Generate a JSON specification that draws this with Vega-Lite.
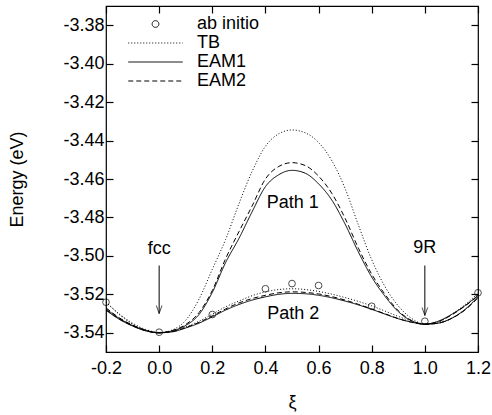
{
  "$schema": "https://vega.github.io/schema/vega-lite/v6.json",
  "width": 372,
  "height": 346,
  "autosize": {"type": "none"},
  "padding": {"left": 106, "top": 6, "right": 14, "bottom": 63},
  "background": "white",
  "config": {
    "view": {"stroke": "black", "strokeWidth": 1.2},
    "font": "Liberation Sans",
    "scale": {"zero": false},
    "axis": {
      "labelFont": "Liberation Sans",
      "labelFontSize": 18,
      "labelColor": "black",
      "labelFlush": false,
      "labelOverlap": false,
      "tickColor": "black",
      "tickSize": -7,
      "tickWidth": 1.2,
      "domain": false,
      "grid": false,
      "titleFont": "Liberation Sans",
      "titleFontSize": 18,
      "titleFontWeight": "normal",
      "titleColor": "black"
    }
  },
  "datasets": {
    "curves": [
      {"m":"TB","p":1,"x":-0.2,"y":-3.5240},{"m":"TB","p":1,"x":-0.15,"y":-3.5305},{"m":"TB","p":1,"x":-0.1,"y":-3.5355},{"m":"TB","p":1,"x":-0.05,"y":-3.5387},{"m":"TB","p":1,"x":0,"y":-3.5400},{"m":"TB","p":1,"x":0.05,"y":-3.5385},{"m":"TB","p":1,"x":0.1,"y":-3.5335},{"m":"TB","p":1,"x":0.15,"y":-3.5225},{"m":"TB","p":1,"x":0.2,"y":-3.5070},{"m":"TB","p":1,"x":0.25,"y":-3.4915},{"m":"TB","p":1,"x":0.3,"y":-3.4730},{"m":"TB","p":1,"x":0.35,"y":-3.4560},{"m":"TB","p":1,"x":0.4,"y":-3.4430},{"m":"TB","p":1,"x":0.45,"y":-3.4365},{"m":"TB","p":1,"x":0.5,"y":-3.4345},{"m":"TB","p":1,"x":0.55,"y":-3.4360},{"m":"TB","p":1,"x":0.6,"y":-3.4410},{"m":"TB","p":1,"x":0.65,"y":-3.4505},{"m":"TB","p":1,"x":0.7,"y":-3.4650},{"m":"TB","p":1,"x":0.75,"y":-3.4840},{"m":"TB","p":1,"x":0.8,"y":-3.5020},{"m":"TB","p":1,"x":0.85,"y":-3.5160},{"m":"TB","p":1,"x":0.9,"y":-3.5260},{"m":"TB","p":1,"x":0.95,"y":-3.5325},{"m":"TB","p":1,"x":1,"y":-3.5355},{"m":"TB","p":1,"x":1.05,"y":-3.5345},{"m":"TB","p":1,"x":1.1,"y":-3.5305},{"m":"TB","p":1,"x":1.15,"y":-3.5255},{"m":"TB","p":1,"x":1.2,"y":-3.5195},
      {"m":"EAM1","p":1,"x":-0.2,"y":-3.5275},{"m":"EAM1","p":1,"x":-0.15,"y":-3.5325},{"m":"EAM1","p":1,"x":-0.1,"y":-3.5362},{"m":"EAM1","p":1,"x":-0.05,"y":-3.5388},{"m":"EAM1","p":1,"x":0,"y":-3.5400},{"m":"EAM1","p":1,"x":0.05,"y":-3.5390},{"m":"EAM1","p":1,"x":0.1,"y":-3.5362},{"m":"EAM1","p":1,"x":0.15,"y":-3.5305},{"m":"EAM1","p":1,"x":0.2,"y":-3.5190},{"m":"EAM1","p":1,"x":0.25,"y":-3.5035},{"m":"EAM1","p":1,"x":0.3,"y":-3.4910},{"m":"EAM1","p":1,"x":0.35,"y":-3.4770},{"m":"EAM1","p":1,"x":0.4,"y":-3.4640},{"m":"EAM1","p":1,"x":0.45,"y":-3.4578},{"m":"EAM1","p":1,"x":0.5,"y":-3.4555},{"m":"EAM1","p":1,"x":0.55,"y":-3.4570},{"m":"EAM1","p":1,"x":0.6,"y":-3.4625},{"m":"EAM1","p":1,"x":0.65,"y":-3.4710},{"m":"EAM1","p":1,"x":0.7,"y":-3.4835},{"m":"EAM1","p":1,"x":0.75,"y":-3.4980},{"m":"EAM1","p":1,"x":0.8,"y":-3.5110},{"m":"EAM1","p":1,"x":0.85,"y":-3.5210},{"m":"EAM1","p":1,"x":0.9,"y":-3.5290},{"m":"EAM1","p":1,"x":0.95,"y":-3.5338},{"m":"EAM1","p":1,"x":1,"y":-3.5355},{"m":"EAM1","p":1,"x":1.05,"y":-3.5340},{"m":"EAM1","p":1,"x":1.1,"y":-3.5305},{"m":"EAM1","p":1,"x":1.15,"y":-3.5260},{"m":"EAM1","p":1,"x":1.2,"y":-3.5205},
      {"m":"EAM2","p":1,"x":-0.2,"y":-3.5270},{"m":"EAM2","p":1,"x":-0.15,"y":-3.5322},{"m":"EAM2","p":1,"x":-0.1,"y":-3.5360},{"m":"EAM2","p":1,"x":-0.05,"y":-3.5387},{"m":"EAM2","p":1,"x":0,"y":-3.5400},{"m":"EAM2","p":1,"x":0.05,"y":-3.5388},{"m":"EAM2","p":1,"x":0.1,"y":-3.5357},{"m":"EAM2","p":1,"x":0.15,"y":-3.5295},{"m":"EAM2","p":1,"x":0.2,"y":-3.5180},{"m":"EAM2","p":1,"x":0.25,"y":-3.5015},{"m":"EAM2","p":1,"x":0.3,"y":-3.4875},{"m":"EAM2","p":1,"x":0.35,"y":-3.4740},{"m":"EAM2","p":1,"x":0.4,"y":-3.4600},{"m":"EAM2","p":1,"x":0.45,"y":-3.4535},{"m":"EAM2","p":1,"x":0.5,"y":-3.4515},{"m":"EAM2","p":1,"x":0.55,"y":-3.4530},{"m":"EAM2","p":1,"x":0.6,"y":-3.4585},{"m":"EAM2","p":1,"x":0.65,"y":-3.4675},{"m":"EAM2","p":1,"x":0.7,"y":-3.4805},{"m":"EAM2","p":1,"x":0.75,"y":-3.4960},{"m":"EAM2","p":1,"x":0.8,"y":-3.5095},{"m":"EAM2","p":1,"x":0.85,"y":-3.5200},{"m":"EAM2","p":1,"x":0.9,"y":-3.5285},{"m":"EAM2","p":1,"x":0.95,"y":-3.5336},{"m":"EAM2","p":1,"x":1,"y":-3.5355},{"m":"EAM2","p":1,"x":1.05,"y":-3.5342},{"m":"EAM2","p":1,"x":1.1,"y":-3.5308},{"m":"EAM2","p":1,"x":1.15,"y":-3.5262},{"m":"EAM2","p":1,"x":1.2,"y":-3.5208},
      {"m":"TB","p":2,"x":-0.2,"y":-3.5240},{"m":"TB","p":2,"x":-0.15,"y":-3.5302},{"m":"TB","p":2,"x":-0.1,"y":-3.5350},{"m":"TB","p":2,"x":-0.05,"y":-3.5383},{"m":"TB","p":2,"x":0,"y":-3.5398},{"m":"TB","p":2,"x":0.05,"y":-3.5392},{"m":"TB","p":2,"x":0.1,"y":-3.5370},{"m":"TB","p":2,"x":0.15,"y":-3.5340},{"m":"TB","p":2,"x":0.2,"y":-3.5303},{"m":"TB","p":2,"x":0.25,"y":-3.5265},{"m":"TB","p":2,"x":0.3,"y":-3.5235},{"m":"TB","p":2,"x":0.35,"y":-3.5207},{"m":"TB","p":2,"x":0.4,"y":-3.5187},{"m":"TB","p":2,"x":0.45,"y":-3.5175},{"m":"TB","p":2,"x":0.5,"y":-3.5171},{"m":"TB","p":2,"x":0.55,"y":-3.5175},{"m":"TB","p":2,"x":0.6,"y":-3.5185},{"m":"TB","p":2,"x":0.65,"y":-3.5199},{"m":"TB","p":2,"x":0.7,"y":-3.5217},{"m":"TB","p":2,"x":0.75,"y":-3.5237},{"m":"TB","p":2,"x":0.8,"y":-3.5260},{"m":"TB","p":2,"x":0.85,"y":-3.5287},{"m":"TB","p":2,"x":0.9,"y":-3.5315},{"m":"TB","p":2,"x":0.95,"y":-3.5340},{"m":"TB","p":2,"x":1,"y":-3.5355},{"m":"TB","p":2,"x":1.05,"y":-3.5350},{"m":"TB","p":2,"x":1.1,"y":-3.5325},{"m":"TB","p":2,"x":1.15,"y":-3.5280},{"m":"TB","p":2,"x":1.2,"y":-3.5210},
      {"m":"EAM1","p":2,"x":-0.2,"y":-3.5283},{"m":"EAM1","p":2,"x":-0.15,"y":-3.5330},{"m":"EAM1","p":2,"x":-0.1,"y":-3.5365},{"m":"EAM1","p":2,"x":-0.05,"y":-3.5390},{"m":"EAM1","p":2,"x":0,"y":-3.5400},{"m":"EAM1","p":2,"x":0.05,"y":-3.5395},{"m":"EAM1","p":2,"x":0.1,"y":-3.5375},{"m":"EAM1","p":2,"x":0.15,"y":-3.5350},{"m":"EAM1","p":2,"x":0.2,"y":-3.5317},{"m":"EAM1","p":2,"x":0.25,"y":-3.5282},{"m":"EAM1","p":2,"x":0.3,"y":-3.5253},{"m":"EAM1","p":2,"x":0.35,"y":-3.5230},{"m":"EAM1","p":2,"x":0.4,"y":-3.5213},{"m":"EAM1","p":2,"x":0.45,"y":-3.5200},{"m":"EAM1","p":2,"x":0.5,"y":-3.5195},{"m":"EAM1","p":2,"x":0.55,"y":-3.5197},{"m":"EAM1","p":2,"x":0.6,"y":-3.5205},{"m":"EAM1","p":2,"x":0.65,"y":-3.5218},{"m":"EAM1","p":2,"x":0.7,"y":-3.5235},{"m":"EAM1","p":2,"x":0.75,"y":-3.5255},{"m":"EAM1","p":2,"x":0.8,"y":-3.5278},{"m":"EAM1","p":2,"x":0.85,"y":-3.5303},{"m":"EAM1","p":2,"x":0.9,"y":-3.5327},{"m":"EAM1","p":2,"x":0.95,"y":-3.5345},{"m":"EAM1","p":2,"x":1,"y":-3.5355},{"m":"EAM1","p":2,"x":1.05,"y":-3.5350},{"m":"EAM1","p":2,"x":1.1,"y":-3.5325},{"m":"EAM1","p":2,"x":1.15,"y":-3.5280},{"m":"EAM1","p":2,"x":1.2,"y":-3.5215},
      {"m":"EAM2","p":2,"x":-0.2,"y":-3.5280},{"m":"EAM2","p":2,"x":-0.15,"y":-3.5328},{"m":"EAM2","p":2,"x":-0.1,"y":-3.5364},{"m":"EAM2","p":2,"x":-0.05,"y":-3.5390},{"m":"EAM2","p":2,"x":0,"y":-3.5400},{"m":"EAM2","p":2,"x":0.05,"y":-3.5394},{"m":"EAM2","p":2,"x":0.1,"y":-3.5373},{"m":"EAM2","p":2,"x":0.15,"y":-3.5346},{"m":"EAM2","p":2,"x":0.2,"y":-3.5312},{"m":"EAM2","p":2,"x":0.25,"y":-3.5276},{"m":"EAM2","p":2,"x":0.3,"y":-3.5245},{"m":"EAM2","p":2,"x":0.35,"y":-3.5222},{"m":"EAM2","p":2,"x":0.4,"y":-3.5205},{"m":"EAM2","p":2,"x":0.45,"y":-3.5192},{"m":"EAM2","p":2,"x":0.5,"y":-3.5187},{"m":"EAM2","p":2,"x":0.55,"y":-3.5190},{"m":"EAM2","p":2,"x":0.6,"y":-3.5198},{"m":"EAM2","p":2,"x":0.65,"y":-3.5212},{"m":"EAM2","p":2,"x":0.7,"y":-3.5230},{"m":"EAM2","p":2,"x":0.75,"y":-3.5252},{"m":"EAM2","p":2,"x":0.8,"y":-3.5276},{"m":"EAM2","p":2,"x":0.85,"y":-3.5301},{"m":"EAM2","p":2,"x":0.9,"y":-3.5326},{"m":"EAM2","p":2,"x":0.95,"y":-3.5345},{"m":"EAM2","p":2,"x":1,"y":-3.5356},{"m":"EAM2","p":2,"x":1.05,"y":-3.5350},{"m":"EAM2","p":2,"x":1.1,"y":-3.5326},{"m":"EAM2","p":2,"x":1.15,"y":-3.5283},{"m":"EAM2","p":2,"x":1.2,"y":-3.5218}
    ],
    "abinitio": [
      {"x":-0.2,"y":-3.5241},{"x":0,"y":-3.5397},{"x":0.2,"y":-3.5305},{"x":0.4,"y":-3.5171},{"x":0.5,"y":-3.5144},{"x":0.6,"y":-3.5154},{"x":0.8,"y":-3.5262},{"x":1,"y":-3.5340},{"x":1.2,"y":-3.5192}
    ],
    "labels": [
      {"x":0,"y":-3.4962,"t":"fcc"},{"x":1,"y":-3.4957,"t":"9R"},{"x":0.503,"y":-3.4725,"t":"Path 1"},{"x":0.505,"y":-3.5303,"t":"Path 2"}
    ],
    "arrows": [
      {"x":0,"y1":-3.5050,"y2":-3.5300},{"x":1,"y1":-3.5050,"y2":-3.5310}
    ]
  },
  "layer": [
    {
      "data": {"name": "curves"},
      "mark": {"type": "line", "interpolate": "monotone", "color": "black"},
      "encoding": {
        "x": {"field": "x", "type": "quantitative", "scale": {"domain": [-0.2, 1.2], "nice": false, "zero": false},
              "axis": {"orient": "bottom", "values": [-0.2,0,0.2,0.4,0.6,0.8,1.0,1.2], "labelExpr": "replace(format(datum.value, '.1f'), '\u2212', '-')", "labelPadding": 14, "title": "ξ", "titlePadding": 16}},
        "y": {"field": "y", "type": "quantitative", "scale": {"domain": [-3.55, -3.37], "nice": false, "zero": false},
              "axis": {"orient": "left", "values": [-3.54,-3.52,-3.50,-3.48,-3.46,-3.44,-3.42,-3.40,-3.38], "labelExpr": "replace(format(datum.value, '.2f'), '\u2212', '-')", "labelPadding": 9, "title": "Energy (eV)", "titlePadding": 36}},
        "detail": {"field": "p", "type": "nominal"},
        "strokeDash": {"field": "m", "type": "nominal",
          "scale": {"domain": ["ab initio", "TB", "EAM1", "EAM2"], "range": [[1,0],[1,2],[1,0],[5,3]]},
          "legend": {
            "title": null, "orient": "none", "legendX": 22, "legendY": 9,
            "symbolType": "stroke", "symbolSize": 100, "symbolStrokeWidth": 1.1, "symbolStrokeColor": "black",
            "labelFont": "Liberation Sans", "labelFontSize": 18, "labelColor": "black", "labelOffset": 51,
            "rowPadding": 1, "padding": 0,
            "encode": {"symbols": {"update": {
              "shape": {"signal": "datum.value === 'ab initio' ? 'circle' : 'M-5.45,0H5.45'"},
              "size": {"signal": "datum.value === 'ab initio' ? 45 : 100"},
              "x": {"value": 27.5},
              "fill": {"value": "transparent"},
              "stroke": {"value": "black"}
            }}}
          }},
        "strokeWidth": {"field": "m", "type": "nominal", "scale": {"domain": ["ab initio", "TB", "EAM1", "EAM2"], "range": [1, 1.0, 1.3, 1.1]}, "legend": null}
      }
    },
    {
      "data": {"name": "abinitio"},
      "mark": {"type": "point", "shape": "circle", "filled": false, "size": 45, "stroke": "black", "strokeWidth": 1},
      "encoding": {
        "x": {"field": "x", "type": "quantitative", "scale": {"domain": [-0.2, 1.2], "nice": false, "zero": false}, "axis": {"orient": "top", "values": [-0.2,0,0.2,0.4,0.6,0.8,1.0,1.2], "labels": false, "title": null}},
        "y": {"field": "y", "type": "quantitative", "scale": {"domain": [-3.55, -3.37], "nice": false, "zero": false}, "axis": {"orient": "right", "values": [-3.54,-3.52,-3.50,-3.48,-3.46,-3.44,-3.42,-3.40,-3.38], "labels": false, "title": null}}
      }
    },
    {
      "data": {"name": "labels"},
      "mark": {"type": "text", "font": "Liberation Sans", "fontSize": 18, "color": "black", "baseline": "middle", "align": "center"},
      "encoding": {
        "x": {"field": "x", "type": "quantitative", "scale": {"domain": [-0.2, 1.2], "nice": false, "zero": false}, "axis": null},
        "y": {"field": "y", "type": "quantitative", "scale": {"domain": [-3.55, -3.37], "nice": false, "zero": false}, "axis": null},
        "text": {"field": "t"}
      }
    },
    {
      "data": {"name": "arrows"},
      "mark": {"type": "rule", "color": "black", "strokeWidth": 1},
      "encoding": {
        "x": {"field": "x", "type": "quantitative", "scale": {"domain": [-0.2, 1.2], "nice": false, "zero": false}, "axis": null},
        "y": {"field": "y1", "type": "quantitative", "scale": {"domain": [-3.55, -3.37], "nice": false, "zero": false}, "axis": null},
        "y2": {"field": "y2"}
      }
    },
    {
      "data": {"name": "arrows"},
      "mark": {"type": "point", "shape": "M-0.35,-1L0,0L0.35,-1", "filled": false, "size": 256, "stroke": "black", "strokeWidth": 1},
      "encoding": {
        "x": {"field": "x", "type": "quantitative", "scale": {"domain": [-0.2, 1.2], "nice": false, "zero": false}, "axis": null},
        "y": {"field": "y2", "type": "quantitative", "scale": {"domain": [-3.55, -3.37], "nice": false, "zero": false}, "axis": null}
      }
    }
  ],
  "resolve": {"axis": {"x": "independent", "y": "independent"}}
}
